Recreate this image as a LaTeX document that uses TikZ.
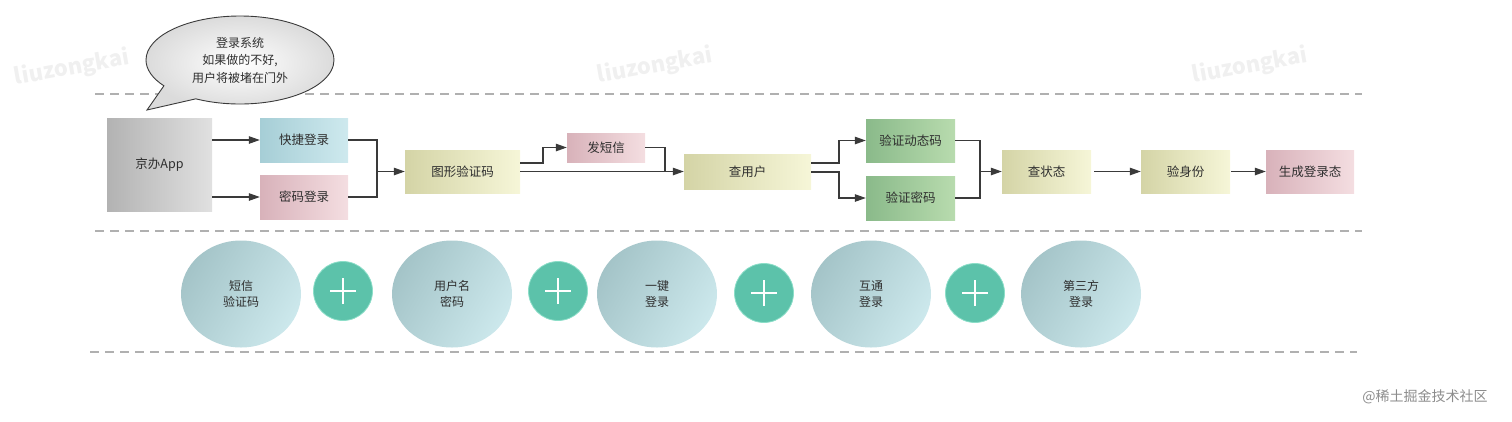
\documentclass[tikz,border=0pt]{standalone}
\usepackage{fontspec}
\setmainfont{Noto Sans CJK SC}
\usetikzlibrary{arrows.meta,shapes.geometric,shapes.callouts}
\definecolor{txt}{HTML}{2E2E2E}
\definecolor{ln}{HTML}{3A3A3A}
\definecolor{dsh}{HTML}{B0B0B0}
\definecolor{plusg}{HTML}{5CC2AA}
\tikzset{
  base/.style={rectangle, inner sep=0pt, text=txt, font=\fontsize{12.5}{14}\selectfont},
  graybox/.style={base, left color=black!30, right color=black!12},
  bluebox/.style={base, left color={rgb,255:red,166;green,206;blue,214}, right color={rgb,255:red,206;green,233;blue,238}},
  pinkbox/.style={base, left color={rgb,255:red,216;green,178;blue,186}, right color={rgb,255:red,244;green,222;blue,225}},
  khakibox/.style={base, left color={rgb,255:red,212;green,212;blue,166}, right color={rgb,255:red,246;green,246;blue,216}},
  greenbox/.style={base, left color={rgb,255:red,138;green,186;blue,138}, right color={rgb,255:red,184;green,219;blue,174}},
  bigcirc/.style={ellipse, inner sep=0pt, minimum width=120pt, minimum height=107pt, align=center, text=txt,
     font=\fontsize{12}{16.5}\selectfont, left color={rgb,255:red,164;green,196;blue,200}, right color={rgb,255:red,204;green,232;blue,236}, shading angle=60},
  pluscirc/.style={circle, fill=plusg, draw={rgb,255:red,140;green,222;blue,200}, line width=0.8pt, minimum size=59pt, inner sep=0pt},
  plusbar/.style={white, line width=2.6pt},
  arr/.style={ln, line width=1.1pt, -{Triangle[length=11pt,width=7.5pt]}},
  conn/.style={ln, line width=1.1pt},
  sep/.style={dsh, line width=1.3pt, dash pattern=on 9pt off 6pt},
  wm/.style={text=black!6, font=\fontsize{22}{22}\selectfont\bfseries, rotate=10}
}
\begin{document}
\begin{tikzpicture}[x=1pt,y=-1pt]
\useasboundingbox (0,0) rectangle (1512,421);
% watermarks
\node[wm] (w1) at (72,68) {liuzongkai};
\node[wm] (w2) at (655,66) {liuzongkai};
\node[wm] (w3) at (1250,66) {liuzongkai};
\node[text=black!45, font=\fontsize{14}{14}\selectfont] (jj) at (1425,397) {@稀土掘金技术社区};
% separators
\coordinate (s1a) at (95,94); \coordinate (s1b) at (1362,94);
\coordinate (s2a) at (95,231); \coordinate (s2b) at (1362,231);
\coordinate (s3a) at (90,352); \coordinate (s3b) at (1357,352);
\draw[sep] (s1a) -- (s1b);
\draw[sep] (s2a) -- (s2b);
\draw[sep] (s3a) -- (s3b);
% speech bubble
\node[ellipse callout, callout absolute pointer={(147,110)}, callout pointer arc=26, minimum width=188pt, minimum height=88pt,
  inner sep=0pt, draw=ln, line width=0.9pt, inner color=white, outer color=black!14, align=center, text=txt,
  font=\fontsize{12}{17.5}\selectfont] (bub) at (240,60) {登录系统\\如果做的不好,\\用户将被堵在门外};
% boxes
\node[graybox, minimum width=105pt, minimum height=93pt] (app) at (159.5,164.5) {京办App};
\node[bluebox, minimum width=88pt, minimum height=44pt] (kj) at (304,140) {快捷登录};
\node[pinkbox, minimum width=88pt, minimum height=44pt] (mm) at (304,197) {密码登录};
\node[khakibox, minimum width=115pt, minimum height=43pt] (tx) at (462.5,171.5) {图形验证码};
\node[pinkbox, minimum width=78pt, minimum height=29pt] (dx) at (606,147.5) {发短信};
\node[khakibox, minimum width=127pt, minimum height=35pt] (cy) at (747.5,171.5) {查用户};
\node[greenbox, minimum width=89pt, minimum height=43pt] (dt) at (910.5,140.5) {验证动态码};
\node[greenbox, minimum width=89pt, minimum height=44pt] (ym) at (910.5,198) {验证密码};
\node[khakibox, minimum width=89pt, minimum height=43pt] (zt) at (1046.5,171.5) {查状态};
\node[khakibox, minimum width=89pt, minimum height=43pt] (sf) at (1185.5,171.5) {验身份};
\node[pinkbox, minimum width=88pt, minimum height=43pt] (sc) at (1310,171.5) {生成登录态};
% connectors
\draw[arr] (app.east |- kj.west) -- (kj.west);
\draw[arr] (app.east |- mm.west) -- (mm.west);
\coordinate (j1) at (377,171.5);
\draw[conn] (kj.east) -| (j1);
\draw[conn] (mm.east) -| (j1);
\draw[arr] (j1) -- (tx.west);
\coordinate (a1) at (543,163);
\draw[arr] (tx.east |- a1) -- (a1) |- (dx.west);
\draw[arr] (tx.east) -- (cy.west);
\coordinate (j2) at (665,171.5);
\draw[conn] (dx.east) -| (j2);
\coordinate (b1) at (839,163);
\coordinate (b2) at (839,172);
\draw[arr] (cy.east |- b1) -- (b1) |- (dt.west);
\draw[arr] (cy.east |- b2) -- (b2) |- (ym.west);
\coordinate (j3) at (980,171.5);
\draw[conn] (dt.east) -| (j3);
\draw[conn] (ym.east) -| (j3);
\draw[arr] (j3) -- (zt.west);
\draw[arr] ([xshift=3pt]zt.east) -- (sf.west);
\draw[arr] ([xshift=1pt]sf.east) -- (sc.west);
% circles
\node[bigcirc] (c1) at (241,294) {短信\\验证码};
\node[bigcirc] (c2) at (452,294) {用户名\\密码};
\node[bigcirc] (c3) at (657,294) {一键\\登录};
\node[bigcirc] (c4) at (871,294) {互通\\登录};
\node[bigcirc] (c5) at (1081,294) {第三方\\登录};
\foreach \n/\x/\y in {p1/343/291, p2/558/291, p3/764/293, p4/975/293}{
  \node[pluscirc] (\n) at (\x,\y) {};
  \draw[plusbar] ([xshift=-13pt]\n.center) -- ([xshift=13pt]\n.center);
  \draw[plusbar] ([yshift=-13pt]\n.center) -- ([yshift=13pt]\n.center);
}
\end{tikzpicture}
\end{document}
